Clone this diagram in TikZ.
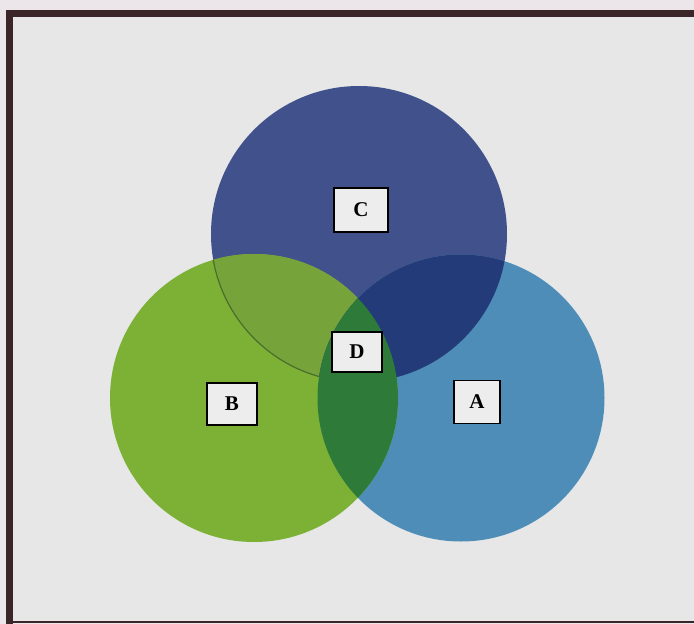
\documentclass[tikz,border=0pt]{standalone}
\usepackage{fontspec}
\setmainfont{Liberation Serif}
\definecolor{outerbg}{HTML}{ECE5E9}
\definecolor{innerbg}{HTML}{E6E7E6}
\definecolor{framec}{HTML}{3A2528}
\definecolor{cblue}{HTML}{41518C}
\definecolor{bgreen}{HTML}{7CB136}
\definecolor{ablue}{HTML}{4D8DB8}
\definecolor{cbolive}{HTML}{77A33B}
\definecolor{canavy}{HTML}{233C79}
\definecolor{abgreen}{HTML}{2D7A39}
\definecolor{arcline}{HTML}{4A6E2C}
\definecolor{boxfill}{HTML}{EEEDEE}
\begin{document}
\begin{tikzpicture}[x=1pt,y=-1pt,
  lbl/.style={draw=black, line width=1.8pt, fill=boxfill, inner sep=0pt,
    font=\fontsize{21}{25}\selectfont\bfseries}]
\useasboundingbox (0,0) rectangle (694,624);
\fill[outerbg] (0,0) rectangle (694,624);
\fill[innerbg] (9,14) rectangle (694,622);
\draw[framec, line width=7pt] (9.5,624) -- (9.5,13.5) -- (694,13.5);
\draw[framec, line width=2pt] (9,622) -- (694,622);
\coordinate (cC) at (359,234);
\coordinate (cB) at (254,398);
\coordinate (cA) at (461,398);
% base circles
\fill[cblue] (cC) circle (148);
\fill[ablue] (cA) circle (143.5);
\fill[bgreen] (cB) circle (144);
% C and B
\begin{scope}
  \clip (cC) circle (148);
  \fill[cbolive] (cB) circle (144);
\end{scope}
% C and A
\begin{scope}
  \clip (cC) circle (148);
  \fill[canavy] (cA) circle (143.5);
\end{scope}
% arc of C inside B
\begin{scope}
  \clip (cB) circle (144);
  \draw[arcline, line width=1.2pt] (cC) circle (148);
\end{scope}
% A and B
\begin{scope}
  \clip (cA) circle (143.5);
  \fill[abgreen] (cB) circle (144);
\end{scope}
% labels
\node[lbl, minimum width=54pt, minimum height=44pt] (lC) at (361,210) {C};
\node[lbl, minimum width=50pt, minimum height=40pt] (lD) at (357,352) {D};
\node[lbl, minimum width=50pt, minimum height=42pt] (lB) at (232,404) {B};
\node[lbl, minimum width=46pt, minimum height=43pt] (lA) at (477,402) {A};
\end{tikzpicture}
\end{document}
